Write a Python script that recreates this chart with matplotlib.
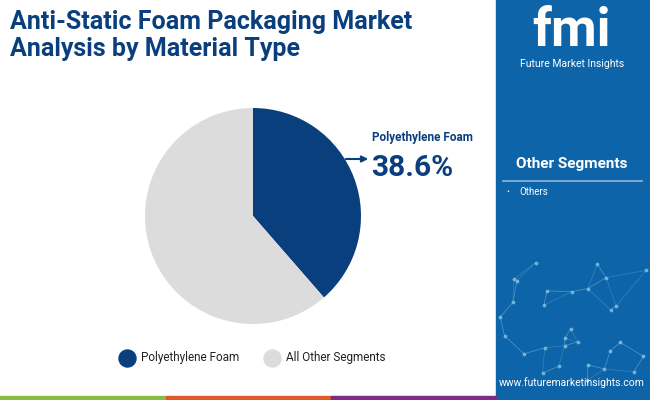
import matplotlib
matplotlib.use("Agg")
import matplotlib.pyplot as plt
from matplotlib.patches import Rectangle, FancyArrowPatch
import numpy as np

plt.rcParams["font.family"] = "Roboto"

categories = ["Polyethylene Foam", "All Other Segments"]
values = [38.6, 61.4]
colors = ["#0a3f7e", "#dcdcdc"]
other_items = ["Others"]

W, H = 650, 400
fig = plt.figure(figsize=(6.5, 4.0), dpi=100)
bg = fig.add_axes([0, 0, 1, 1])
bg.set_xlim(0, W); bg.set_ylim(H, 0); bg.axis("off")

# right panel
bg.add_patch(Rectangle((496, 0), W - 496, H, color="#0e64a8", zorder=0))
rng = np.random.default_rng(3)
pts = np.column_stack([rng.uniform(500, 650, 30), rng.uniform(250, 390, 30)])
for i in range(len(pts)):
    d = np.hypot(*(pts - pts[i]).T)
    for j in np.argsort(d)[1:3]:
        bg.plot([pts[i, 0], pts[j, 0]], [pts[i, 1], pts[j, 1]], color="#5fa3cf", lw=0.5, alpha=0.5, zorder=1)
bg.scatter(pts[:, 0], pts[:, 1], s=3, color="#8cc3e0", alpha=0.7, zorder=1)
bg.text(572, 32, "fmi", color="white", fontsize=38, fontweight="bold", ha="center", va="center")
bg.text(572, 64, "Future Market Insights", color="white", fontsize=7.5, ha="center", va="center")
bg.text(572, 164, "Other Segments", color="white", fontsize=11, fontweight="bold", ha="center", va="center")
bg.plot([503, 642], [181, 181], color="#8fb8dc", lw=1.2)
for k, it in enumerate(other_items):
    bg.text(506, 192 + 14 * k, "•", color="white", fontsize=6, va="center")
    bg.text(519, 192 + 14 * k, it, color="white", fontsize=7, va="center")
bg.text(572, 383, "www.futuremarketinsights.com", color="white", fontsize=7.5, ha="center", va="center")

# bottom strip
for x0, x1, c in [(0, 166, "#8bbd45"), (166, 331, "#e0592a"), (331, 496, "#7e2b86")]:
    bg.add_patch(Rectangle((x0, 396), x1 - x0, 4, color=c, zorder=2))

# title
bg.text(10, 22, "Anti-Static Foam Packaging Market", fontsize=18, fontweight="bold", color="#0a3f7e", va="center")
bg.text(10, 49, "Analysis by Material Type", fontsize=18, fontweight="bold", color="#0a3f7e", va="center")

# pie
r = 108; cx, cy = 253, 216
ax = fig.add_axes([(cx - r) / W, 1 - (cy + r) / H, 2 * r / W, 2 * r / H])
ax.pie(values, colors=colors, startangle=90, counterclock=False, radius=1.0)
ax.set_xlim(-1, 1); ax.set_ylim(-1, 1); ax.set_aspect("auto")

bg.text(372, 137, categories[0], fontsize=8.5, fontweight="bold", color="#0a3f7e", va="center")
bg.text(371, 168, f"{values[0]}%", fontsize=21.5, fontweight="bold", color="#0a3f7e", va="center")
bg.add_patch(FancyArrowPatch((343, 159), (371, 159), arrowstyle="-|>", mutation_scale=9, color="#0a3f7e", lw=1.5))

# legend
for (x, lab, c) in [(127, categories[0], colors[0]), (272, categories[1], colors[1])]:
    bg.scatter([x], [358], s=150, color=c)
    bg.text(x + 14, 358, lab, fontsize=8.5, color="#222222", va="center")

fig.savefig("out.png", dpi=100)
